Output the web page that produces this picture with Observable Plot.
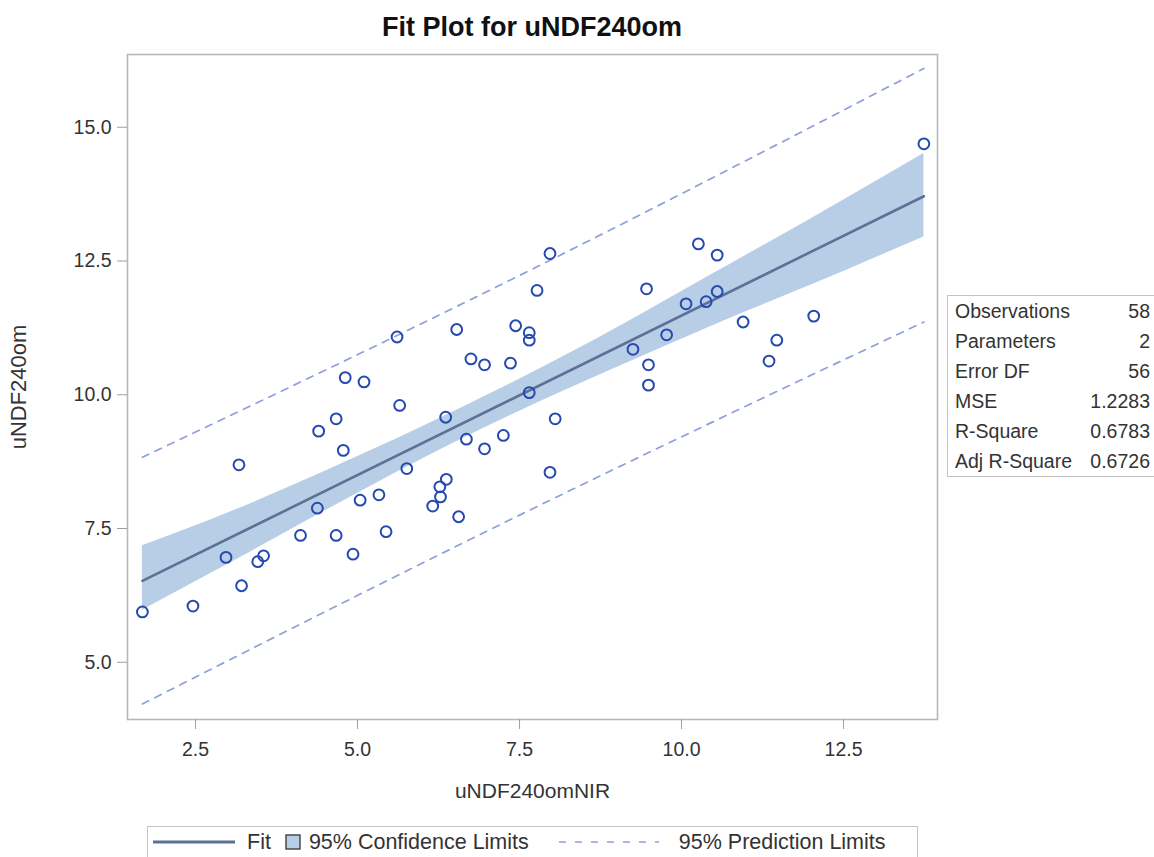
<!DOCTYPE html>
<html>
<head>
<meta charset="utf-8">
<script src="https://cdn.jsdelivr.net/npm/d3@7"></script>
<script src="https://cdn.jsdelivr.net/npm/@observablehq/plot@0.6"></script>
<style>
  html, body { margin: 0; padding: 0; background: #fff; }
  #page { position: relative; width: 1154px; height: 857px; overflow: hidden; font-family: "Liberation Sans", Arial, sans-serif; color: #333; }
  #title { position: absolute; top: 8px; left: 127px; width: 810px; text-align: center; font-weight: bold; font-size: 27px; color: #111; line-height: 38px; }
  #chart { position: absolute; top: 44px; left: 0; }
  #stats { position: absolute; left: 947px; top: 295px; width: 210px; border: 1px solid #c4c4c4; box-sizing: border-box; padding: 0 6px 0 7px; }
  #stats .row { display: flex; justify-content: space-between; height: 30px; line-height: 30px; font-size: 19.5px; color: #333; }
  #legend { position: absolute; left: 147px; top: 826px; width: 771px; height: 44px; border: 1px solid #c4c4c4; box-sizing: border-box; display: flex; align-items: center; font-size: 21.5px; color: #333; padding-left: 5px; padding-bottom: 12px; }
  #legend .item { display: flex; align-items: center; }
</style>
</head>
<body>
<div id="page">
  <div id="title"></div>
  <div id="chart"></div>
  <div id="stats"></div>
  <div id="legend"></div>
</div>
<script>
// ---- data ----
const titleText = "Fit Plot for uNDF240om";
const xLabel = "uNDF240omNIR";
const yLabel = "uNDF240om";

const obsX = [1.68, 2.46, 2.97, 3.17, 3.21, 3.46, 3.55, 4.12, 4.38, 4.40,
              4.67, 4.67, 4.78, 4.81, 4.93, 5.04, 5.10, 5.33, 5.44, 5.61,
              5.65, 5.76, 6.16, 6.27, 6.28, 6.36, 6.37, 6.53, 6.56, 6.68,
              6.75, 6.96, 6.96, 7.25, 7.36, 7.44, 7.65, 7.65, 7.65, 7.77,
              7.97, 7.97, 8.05, 9.25, 9.46, 9.49, 9.49, 9.77, 10.07, 10.26,
              10.38, 10.55, 10.55, 10.95, 11.35, 11.47, 12.04, 13.74];
const obsY = [5.94, 6.05, 6.96, 8.69, 6.43, 6.88, 6.99, 7.37, 7.88, 9.32,
              7.37, 9.55, 8.96, 10.32, 7.02, 8.03, 10.24, 8.13, 7.44, 11.08,
              9.80, 8.62, 7.92, 8.28, 8.09, 9.58, 8.42, 11.22, 7.72, 9.17,
              10.67, 10.56, 8.99, 9.24, 10.59, 11.29, 11.16, 11.02, 10.04, 11.95,
              12.64, 8.55, 9.55, 10.85, 11.98, 10.56, 10.18, 11.12, 11.70, 12.82,
              11.74, 12.61, 11.93, 11.36, 10.63, 11.02, 11.47, 14.69];

const fitX = [1.68, 13.74];
const fitY = [6.52, 13.71];

const bandX   = [1.68, 3.0, 4.5, 6.0, 7.5, 9.0, 10.5, 12.0, 13.74];
const clLower = [5.97, 6.83, 7.83, 8.80, 9.69, 10.51, 11.30, 12.05, 12.95];
const clUpper = [7.18, 7.79, 8.57, 9.40, 10.29, 11.25, 12.27, 13.29, 14.51];

const plX     = [1.68, 7.5, 13.74];
const plLower = [4.22, 7.75, 11.36];
const plUpper = [8.83, 12.23, 16.10];

const xTicks = [2.5, 5.0, 7.5, 10.0, 12.5];
const yTicks = [5.0, 7.5, 10.0, 12.5, 15.0];

const statLabels = ["Observations", "Parameters", "Error DF", "MSE", "R-Square", "Adj R-Square"];
const statValues = ["58", "2", "56", "1.2283", "0.6783", "0.6726"];

const legendLabels = ["Fit", "95% Confidence Limits", "95% Prediction Limits"];

// ---- colours ----
const cFit = "#5d7196", cBand = "#b8cee7", cPL = "#8f9fdc", cDot = "#2549ae", cFrame = "#b3b8be";

// ---- tables for the library ----
const obs = obsX.map((x, i) => ({x, y: obsY[i]}));
const fit = fitX.map((x, i) => ({x, y: fitY[i]}));
const band = bandX.map((x, i) => ({x, lo: clLower[i], hi: clUpper[i]}));
const plU = plX.map((x, i) => ({x, y: plUpper[i]}));
const plL = plX.map((x, i) => ({x, y: plLower[i]}));
const fmt = d3.format(".1f");

const chart = Plot.plot({
  width: 1154,
  height: 771,
  marginLeft: 127,
  marginRight: 217,
  marginTop: 10,
  marginBottom: 96,
  style: {fontFamily: "'Liberation Sans', Arial, sans-serif", fontSize: "19.5px", color: "#333", background: "transparent"},
  x: {domain: [1.45, 13.95]},
  y: {domain: [3.93, 16.36]},
  marks: [
    Plot.areaY(band, {x: "x", y1: "lo", y2: "hi", fill: cBand, curve: "monotone-x"}),
    Plot.line(fit, {x: "x", y: "y", stroke: cFit, strokeWidth: 2.6}),
    Plot.line(plU, {x: "x", y: "y", stroke: cPL, strokeWidth: 1.7, strokeDasharray: "7,7", curve: "monotone-x"}),
    Plot.line(plL, {x: "x", y: "y", stroke: cPL, strokeWidth: 1.7, strokeDasharray: "7,7", curve: "monotone-x"}),
    Plot.dot(obs, {x: "x", y: "y", r: 5.4, stroke: cDot, strokeWidth: 2, fill: "none"}),
    Plot.frame({stroke: cFrame, strokeWidth: 1.6}),
    Plot.axisX({ticks: xTicks, tickFormat: fmt, tickSize: 10, tickPadding: 13, label: null, stroke: "#9aa0a6", strokeOpacity: 1}),
    Plot.axisY({ticks: yTicks, tickFormat: fmt, tickSize: 10, tickPadding: 6, label: null, stroke: "#9aa0a6", strokeOpacity: 1}),
    Plot.text([xLabel], {frameAnchor: "bottom", lineAnchor: "middle", textAnchor: "middle", dy: 72, fontSize: 21, fill: "#333"}),
    Plot.text([yLabel], {frameAnchor: "left", textAnchor: "middle", lineAnchor: "middle", dx: -109, rotate: -90, fontSize: 22, fill: "#333"})
  ]
});
document.getElementById("chart").appendChild(chart);
document.getElementById("title").textContent = titleText;

// stats table
const stats = document.getElementById("stats");
statLabels.forEach((l, i) => {
  const row = document.createElement("div");
  row.className = "row";
  row.innerHTML = `<span>${l}</span><span>${statValues[i]}</span>`;
  stats.appendChild(row);
});

// legend
const legend = document.getElementById("legend");
const swatches = [
  `<svg width="82" height="10" style="margin-right:12px"><line x1="0" y1="5" x2="82" y2="5" stroke="${cFit}" stroke-width="3.2"/></svg>`,
  `<svg width="16" height="16" style="margin-left:14px;margin-right:8px"><rect x="1" y="1" width="14" height="14" fill="${cBand}" stroke="#333" stroke-width="1.3"/></svg>`,
  `<svg width="100" height="10" style="margin-left:30px;margin-right:20px"><line x1="0" y1="5" x2="100" y2="5" stroke="${cPL}" stroke-width="1.6" stroke-dasharray="7,9"/></svg>`
];
legendLabels.forEach((l, i) => {
  const it = document.createElement("div");
  it.className = "item";
  it.innerHTML = swatches[i] + `<span>${l}</span>`;
  legend.appendChild(it);
});
</script>
</body>
</html>
